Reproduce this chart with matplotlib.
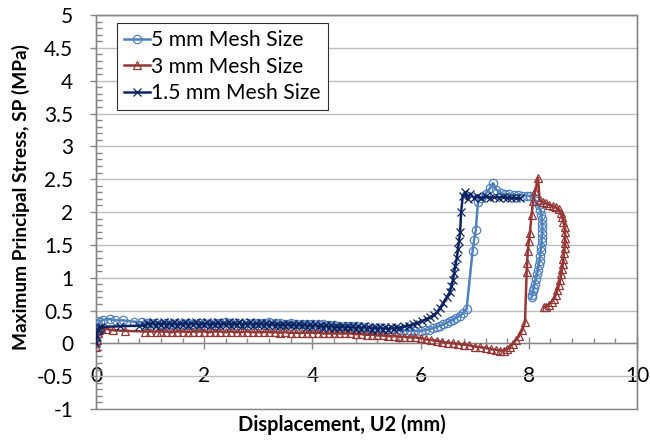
import matplotlib
matplotlib.use('Agg')
import matplotlib.pyplot as plt
from matplotlib.ticker import MultipleLocator
from matplotlib.patches import Rectangle

plt.rcParams['font.family'] = ['Lato', 'DejaVu Sans']

# 5 mm mesh
x_5mm = [0.0, 0.01, 0.02, 0.04, 0.07, 0.13, 0.26, 0.35, 0.5, 0.7, 0.85, 0.95,
         1.0, 1.1, 1.2, 1.3, 1.4, 1.5, 1.6, 1.7, 1.8, 1.9, 2.0, 2.1, 2.2, 2.3, 2.4, 2.5,
         2.6, 2.7, 2.8, 2.9, 3.0, 3.1, 3.2, 3.3, 3.4, 3.5, 3.6, 3.7, 3.8, 3.9, 4.0, 4.1,
         4.2, 4.3, 4.4, 4.5, 4.6, 4.7, 4.8, 4.9, 5.0, 5.1, 5.2, 5.3, 5.4, 5.5, 5.6, 5.7,
         5.8, 5.9, 6.0,
         6.08, 6.15, 6.22, 6.3, 6.36, 6.42, 6.48, 6.54, 6.6, 6.66, 6.73, 6.79, 6.85,
         6.96, 6.99, 7.02, 7.06, 7.12, 7.2, 7.28, 7.34, 7.4, 7.48, 7.56, 7.64, 7.72,
         7.8, 7.88, 7.96, 8.03, 8.09, 8.14, 8.18, 8.21, 8.23, 8.24, 8.25, 8.25, 8.25,
         8.24, 8.24, 8.23, 8.22, 8.21, 8.2, 8.18, 8.17, 8.15, 8.13, 8.11, 8.09, 8.08,
         8.06, 8.05]
y_5mm = [0.0, 0.12, 0.22, 0.29, 0.33, 0.36, 0.37, 0.35, 0.35, 0.33, 0.32, 0.31,
         0.31, 0.31, 0.30, 0.31, 0.30, 0.31, 0.30, 0.31, 0.30, 0.31, 0.31, 0.30, 0.31, 0.31, 0.32, 0.31,
         0.31, 0.30, 0.31, 0.31, 0.31, 0.31, 0.32, 0.31, 0.31, 0.30, 0.31, 0.30, 0.30, 0.30, 0.29, 0.29,
         0.29, 0.28, 0.28, 0.27, 0.27, 0.26, 0.26, 0.25, 0.25, 0.24, 0.24, 0.23, 0.22, 0.22, 0.21, 0.20,
         0.19, 0.19, 0.19,
         0.20, 0.21, 0.23, 0.25, 0.27, 0.29, 0.31, 0.34, 0.36, 0.39, 0.42, 0.46, 0.52,
         1.40, 1.58, 1.72, 2.15, 2.22, 2.28, 2.36, 2.44, 2.34, 2.29, 2.27, 2.27, 2.26,
         2.26, 2.25, 2.25, 2.24, 2.21, 2.16, 2.10, 2.03, 1.96, 1.89, 1.82, 1.75, 1.68,
         1.61, 1.54, 1.47, 1.40, 1.33, 1.26, 1.19, 1.12, 1.05, 0.98, 0.91, 0.85, 0.79,
         0.74, 0.70]

# 3 mm mesh
x_3mm = [0.0, 0.01, 0.03, 0.06, 0.1, 0.18, 0.31, 0.54, 0.9, 1.0, 1.13,
         1.2, 1.3, 1.4, 1.5, 1.6, 1.7, 1.8, 1.9, 2.0, 2.1, 2.2, 2.3, 2.4, 2.5, 2.6, 2.7,
         2.8, 2.9, 3.0, 3.1, 3.2, 3.3, 3.4, 3.5, 3.6, 3.7, 3.8, 3.9, 4.0, 4.1, 4.2, 4.3,
         4.4, 4.5, 4.6, 4.7, 4.8, 4.9, 5.0, 5.1, 5.2, 5.3, 5.4, 5.5, 5.6, 5.7, 5.8, 5.9,
         6.0, 6.1, 6.2, 6.3, 6.4, 6.5, 6.6, 6.7, 6.8, 6.9, 7.0, 7.1, 7.2, 7.3, 7.4,
         7.47, 7.54, 7.6, 7.65, 7.7, 7.76, 7.82, 7.88, 7.93, 7.96, 7.97, 7.98, 8.0,
         8.02, 8.05, 8.08, 8.12, 8.17, 8.2, 8.26, 8.32, 8.38, 8.44, 8.5, 8.55, 8.59,
         8.62, 8.64, 8.66, 8.67, 8.67, 8.67, 8.66, 8.65, 8.64, 8.63, 8.61, 8.6, 8.58,
         8.56, 8.53, 8.5, 8.46, 8.42, 8.37, 8.32, 8.28]
y_3mm = [-0.05, 0.05, 0.15, 0.21, 0.23, 0.22, 0.20, 0.19, 0.18, 0.18, 0.18,
         0.18, 0.18, 0.17, 0.18, 0.18, 0.17, 0.18, 0.18, 0.18, 0.17, 0.18, 0.18, 0.17, 0.18, 0.17, 0.17,
         0.18, 0.17, 0.17, 0.17, 0.17, 0.17, 0.16, 0.17, 0.16, 0.16, 0.16, 0.16, 0.16, 0.16, 0.15, 0.15,
         0.15, 0.15, 0.15, 0.15, 0.14, 0.14, 0.13, 0.13, 0.12, 0.12, 0.11, 0.11, 0.10, 0.10, 0.09, 0.09,
         0.08, 0.06, 0.05, 0.04, 0.02, 0.01, 0.00, -0.01, -0.02, -0.03, -0.05, -0.06, -0.07, -0.09, -0.10,
         -0.11, -0.11, -0.09, -0.06, -0.01, 0.05, 0.11, 0.20, 0.33, 1.08, 1.23, 1.40, 1.56,
         1.68, 1.95, 2.17, 2.32, 2.52, 2.18, 2.15, 2.13, 2.11, 2.09, 2.07, 2.04, 1.99,
         1.92, 1.85, 1.77, 1.69, 1.61, 1.53, 1.45, 1.37, 1.29, 1.21, 1.13, 1.05, 0.97,
         0.89, 0.81, 0.74, 0.68, 0.63, 0.59, 0.56, 0.55]

# 1.5 mm mesh
x_15mm = [0.0, 0.01, 0.03, 0.06, 0.1, 0.45, 0.8,
          0.9, 0.95, 1.0, 1.05, 1.1, 1.15, 1.2, 1.25, 1.3, 1.35,
          1.4, 1.45, 1.5, 1.55, 1.6, 1.65, 1.7, 1.75, 1.8, 1.85,
          1.9, 1.95, 2.0, 2.05, 2.1, 2.15, 2.2, 2.25, 2.3, 2.35,
          2.4, 2.45, 2.5, 2.55, 2.6, 2.65, 2.7, 2.75, 2.8, 2.85,
          2.9, 2.95, 3.0, 3.05, 3.1, 3.15, 3.2, 3.25, 3.3, 3.35,
          3.4, 3.45, 3.5, 3.55, 3.6, 3.65, 3.7, 3.75, 3.8, 3.85,
          3.9, 3.95, 4.0, 4.05, 4.1, 4.15, 4.2, 4.25, 4.3, 4.35,
          4.4, 4.45, 4.5, 4.55, 4.6, 4.65, 4.7, 4.75, 4.8, 4.85,
          4.9, 4.95, 5.0, 5.05, 5.1, 5.15, 5.2, 5.25, 5.3, 5.35,
          5.4, 5.45, 5.5, 5.55, 5.6,
          5.7, 5.78, 5.86, 5.94, 6.02, 6.11, 6.18, 6.24, 6.3, 6.36, 6.42, 6.48, 6.54,
          6.57, 6.6, 6.62, 6.64, 6.67, 6.69, 6.71, 6.73, 6.75, 6.78, 6.82, 6.87, 6.92,
          6.98, 7.05, 7.12, 7.2, 7.28, 7.36, 7.44, 7.52, 7.6, 7.68, 7.76, 7.84]
y_15mm = [0.0, 0.10, 0.20, 0.24, 0.25, 0.26, 0.27,
          0.27, 0.31, 0.28, 0.32, 0.27, 0.31, 0.28, 0.32, 0.27, 0.31,
          0.28, 0.32, 0.27, 0.31, 0.28, 0.32, 0.27, 0.31, 0.28, 0.32,
          0.27, 0.31, 0.28, 0.32, 0.27, 0.31, 0.28, 0.32, 0.27, 0.31,
          0.28, 0.32, 0.27, 0.31, 0.28, 0.32, 0.27, 0.31, 0.28, 0.32,
          0.27, 0.31, 0.28, 0.31, 0.27, 0.31, 0.27, 0.31, 0.27, 0.30,
          0.27, 0.30, 0.26, 0.30, 0.26, 0.30, 0.26, 0.30, 0.26, 0.29,
          0.25, 0.29, 0.25, 0.29, 0.25, 0.28, 0.24, 0.28, 0.24, 0.28,
          0.24, 0.27, 0.23, 0.27, 0.23, 0.27, 0.23, 0.26, 0.22, 0.26,
          0.22, 0.26, 0.22, 0.25, 0.21, 0.25, 0.21, 0.25, 0.21, 0.25,
          0.21, 0.25, 0.22, 0.25, 0.23,
          0.26, 0.27, 0.29, 0.31, 0.34, 0.37, 0.40, 0.43, 0.47, 0.54, 0.62, 0.70, 0.78,
          0.87, 0.97, 1.07, 1.18, 1.30, 1.43, 1.56, 1.69, 2.00, 2.25, 2.30, 2.20, 2.28,
          2.22, 2.25, 2.21, 2.24, 2.22, 2.23, 2.22, 2.23, 2.22, 2.22, 2.21, 2.21]

fig = plt.figure(figsize=(6.5, 4.44), dpi=100)
ax = fig.add_axes([96 / 650, 1 - 409 / 444, (637 - 96) / 650, (409 - 15) / 444])

ax.plot(x_5mm, y_5mm, color='#4F81BD', lw=1.8, marker='o', ms=6, mfc='none',
        mec='#4F81BD', mew=0.9, label='5 mm Mesh Size', zorder=3)
ax.plot(x_3mm, y_3mm, color='#953735', lw=1.8, marker='^', ms=6, mfc='none',
        mec='#953735', mew=0.9, label='3 mm Mesh Size', zorder=4)
ax.plot(x_15mm, y_15mm, color='#0B2461', lw=1.8, marker='x', ms=6,
        mec='#0B2461', mew=0.9, label='1.5 mm Mesh Size', zorder=5)

ax.set_xlim(0, 10)
ax.set_ylim(-1, 5)
ax.yaxis.set_minor_locator(MultipleLocator(0.1))
ax.xaxis.set_minor_locator(MultipleLocator(0.4))
ax.set_yticks([-1, -0.5, 0, 0.5, 1, 1.5, 2, 2.5, 3, 3.5, 4, 4.5, 5])
ax.set_yticklabels(['-1', '-0.5', '0', '0.5', '1', '1.5', '2', '2.5', '3', '3.5', '4', '4.5', '5'])
ax.set_xticks([0, 2, 4, 6, 8, 10])
ax.set_xticklabels(['0', '2', '4', '6', '8', '10'])

ax.grid(axis='y', which='major', color='#BEBEBE', lw=1.0, zorder=0)
ax.set_axisbelow(True)

gray = '#868686'
ax.spines['bottom'].set_position(('data', 0))
for s in ['left', 'bottom', 'top', 'right']:
    ax.spines[s].set_color(gray)
    ax.spines[s].set_linewidth(1.0)
ax.add_patch(Rectangle((0, 0), 1, 1, transform=ax.transAxes, fill=False,
                       edgecolor=gray, lw=1.0, clip_on=False, zorder=1))

ax.tick_params(axis='y', which='major', direction='out', length=4.5, width=1, color=gray,
               labelsize=15, pad=12)
ax.tick_params(axis='y', which='minor', direction='in', length=4.5, width=1, color=gray)
ax.tick_params(axis='x', which='major', direction='inout', length=9, width=1, color=gray,
               labelsize=15, pad=12)
ax.tick_params(axis='x', which='minor', direction='in', length=3.5, width=1, color=gray)

leg = ax.legend(loc='upper left', bbox_to_anchor=(21 / 541, 1 - 8 / 394), fontsize=15.2,
                frameon=True, fancybox=False, edgecolor='#303030', framealpha=1,
                handlelength=1.2, handletextpad=0.05, labelspacing=0.3,
                borderpad=0.35, borderaxespad=0)
leg.get_frame().set_linewidth(0.8)

fig.text(21 / 650, 1 - 197 / 444, 'Maximum Principal Stress, SP (MPa)', rotation=90,
         ha='center', va='center', fontsize=13.8, fontweight='bold')
fig.text(342 / 650, 1 - 425 / 444, 'Displacement, U2 (mm)', ha='center', va='center',
         fontsize=14.4, fontweight='bold')

fig.savefig('out.png', dpi=100)
